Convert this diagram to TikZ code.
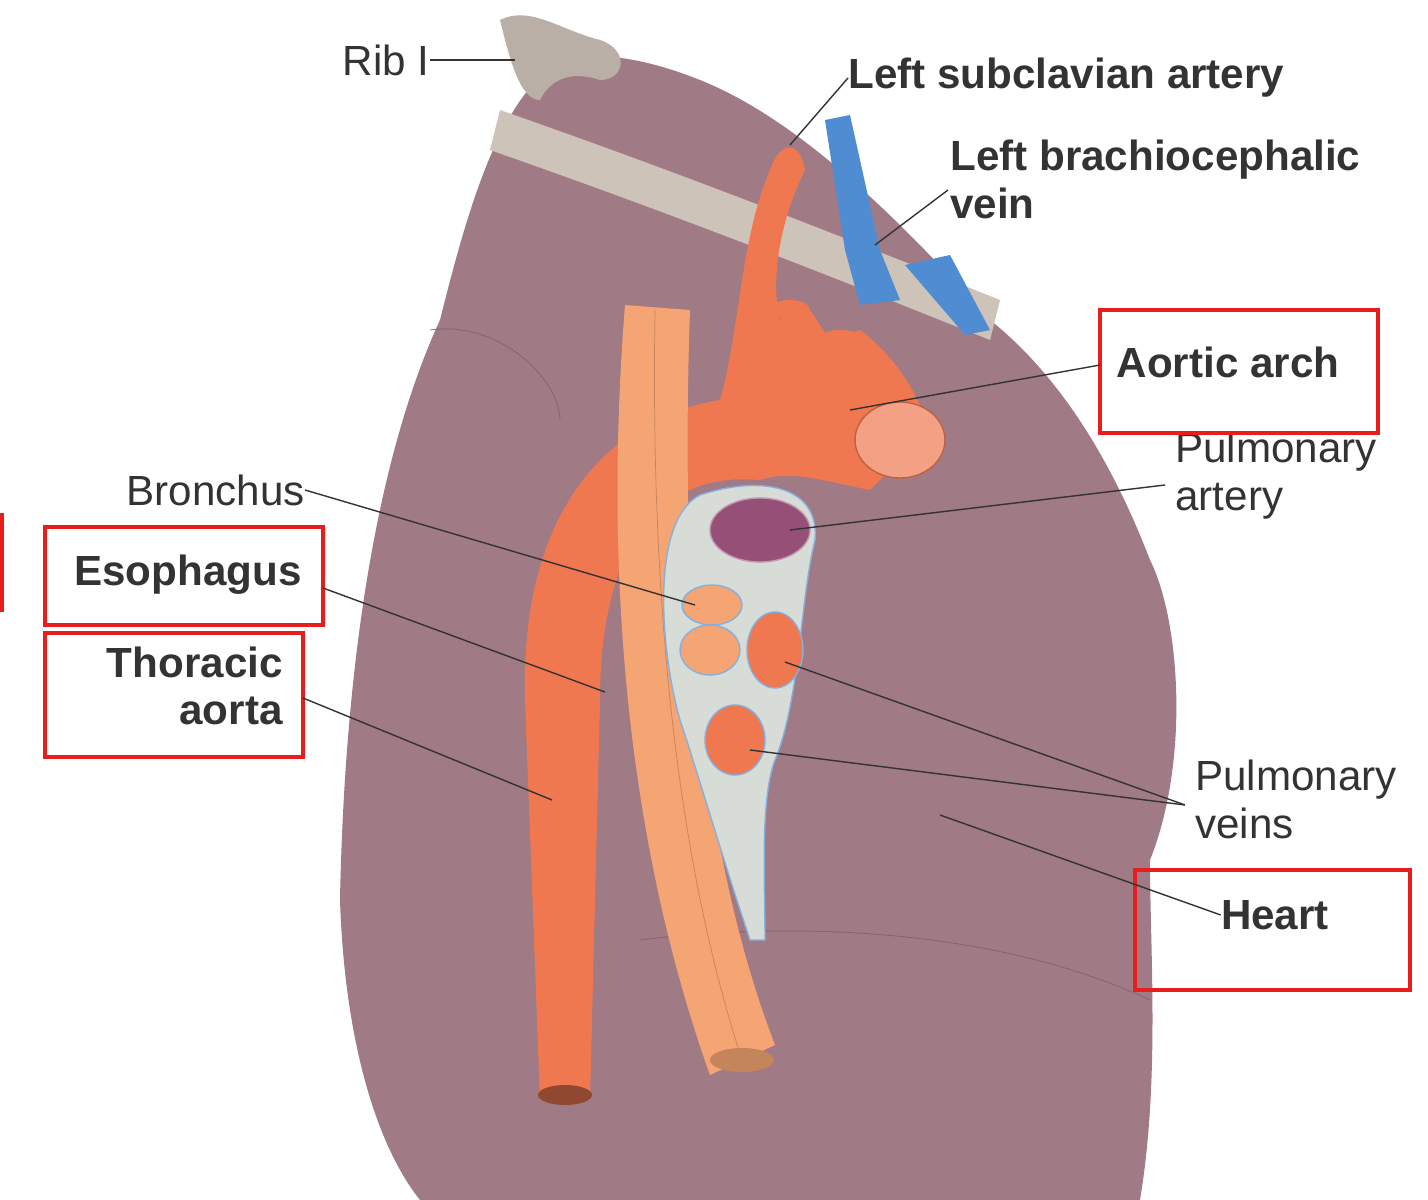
\documentclass[tikz,border=0pt]{standalone}
\usepackage{fontspec}
\setmainfont{Liberation Sans}
\usetikzlibrary{calc}
\definecolor{lung}{RGB}{160,122,132}
\definecolor{rib}{RGB}{205,195,185}
\definecolor{artery}{RGB}{240,120,80}
\definecolor{esoph}{RGB}{245,165,115}
\definecolor{vein}{RGB}{80,140,210}
\definecolor{hilum}{RGB}{215,220,215}
\definecolor{pulm}{RGB}{150,80,120}
\definecolor{boxred}{RGB}{230,30,30}
\tikzset{lbl/.style={font=\fontsize{24}{27}\selectfont, text=black!80, align=left, inner sep=0},
  blbl/.style={lbl, font=\fontsize{24}{27}\selectfont\bfseries},
  lead/.style={black!80, thick},
  redbox/.style={draw=boxred, line width=2.5pt}}
\begin{document}
\begin{tikzpicture}[x=0.02cm,y=-0.02cm]
\useasboundingbox (0,0) rectangle (1428,1200);
\fill[white] (0,0) rectangle (1428,1200);
% lung
\fill[lung] (560,60) .. controls (500,100) and (470,200) .. (440,320)
  .. controls (380,450) and (345,650) .. (340,900) .. controls (345,1050) and (380,1150) .. (420,1200)
  -- (1140,1200) .. controls (1160,1080) and (1150,950) .. (1150,860)
  .. controls (1190,760) and (1180,620) .. (1150,560) .. controls (1100,430) and (1040,360) .. (990,320)
  .. controls (900,220) and (800,120) .. (700,80) .. controls (650,60) and (600,50) .. (560,60) -- cycle;
\draw[lung!80!black, thin] (430,330) .. controls (500,320) and (560,380) .. (560,420);
\draw[lung!80!black, thin] (640,940) .. controls (800,920) and (1000,930) .. (1150,1000);
% rib
\fill[rib] (500,110) .. controls (700,180) and (850,240) .. (1000,300) -- (990,340)
  .. controls (840,280) and (690,220) .. (490,150) -- cycle;
\fill[rib!90!black] (500,20) .. controls (530,5) and (560,30) .. (600,40) .. controls (630,50) and (625,80) .. (600,80)
  .. controls (570,70) and (550,80) .. (540,100) .. controls (520,100) and (510,60) .. (500,20) -- cycle;
% vein
\fill[vein] (825,120) -- (850,115) -- (880,250) -- (900,300) -- (860,305) -- (845,250) -- cycle;
\fill[vein] (905,265) -- (950,255) -- (990,330) -- (965,335) -- cycle;
% subclavian and arch
\fill[artery] (770,170) .. controls (780,140) and (800,140) .. (805,170)
  .. controls (780,220) and (770,280) .. (780,320) -- (810,310) -- (830,340) -- (860,330)
  .. controls (900,360) and (920,400) .. (930,430) -- (870,490) .. controls (820,480) and (790,470) .. (760,480)
  .. controls (650,470) and (600,560) .. (600,700) -- (590,1100) -- (540,1100) -- (525,700)
  .. controls (520,520) and (600,420) .. (720,400) .. controls (740,330) and (740,240) .. (770,170) -- cycle;
\fill[artery] (790,310) ellipse (20 and 10);
\fill[artery] (840,340) ellipse (22 and 10);
\filldraw[fill=artery!70!white, draw=artery!80!black, thick] (900,440) ellipse (45 and 38);
\fill[artery!60!black] (565,1095) ellipse (27 and 10);
% esophagus
\fill[esoph] (625,305) -- (690,310) .. controls (680,600) and (700,850) .. (775,1045) -- (710,1075)
  .. controls (640,880) and (600,620) .. (625,305) -- cycle;
\draw[esoph!80!black] (655,310) .. controls (650,620) and (680,870) .. (742,1060);
\fill[esoph!80!black] (742,1060) ellipse (32 and 12);
% hilum
\filldraw[fill=hilum, draw=vein!70, thick] (700,495) .. controls (760,475) and (820,485) .. (815,540)
  .. controls (800,600) and (800,700) .. (775,760) .. controls (760,800) and (765,880) .. (765,940)
  -- (750,940) .. controls (720,850) and (700,780) .. (680,720) .. controls (660,650) and (650,520) .. (700,495) -- cycle;
\filldraw[fill=pulm, draw=pulm!60!white, thick] (760,530) ellipse (50 and 32);
\filldraw[fill=esoph, draw=vein!70, thick] (712,605) ellipse (30 and 20);
\filldraw[fill=esoph, draw=vein!70, thick] (710,650) ellipse (30 and 25);
\filldraw[fill=artery, draw=vein!70, thick] (775,650) ellipse (28 and 38);
\filldraw[fill=artery, draw=vein!70, thick] (735,740) ellipse (30 and 35);
% labels
\node[lbl, anchor=east] (rib) at (430,60) {Rib I};
\node[blbl, anchor=west] (subcl) at (848,78) {Left subclavian artery};
\node[blbl, anchor=north west] (brach) at (950,140) {Left brachiocephalic\\vein};
\node[blbl] (arch) at (1228,362) {Aortic arch};
\node[lbl, anchor=north west] (partery) at (1175,432) {Pulmonary\\artery};
\node[lbl, anchor=east] (bron) at (305,490) {Bronchus};
\node[blbl] (esop) at (188,575) {Esophagus};
\node[blbl, align=right, anchor=east] (tho) at (283,686) {Thoracic\\aorta};
\node[lbl, anchor=north west] (pveins) at (1195,760) {Pulmonary\\veins};
\node[blbl] (heart) at (1275,915) {Heart};
\draw[redbox] (1100,310) rectangle (1378,433);
\draw[redbox] (45,527) rectangle (323,625);
\draw[redbox] (45,633) rectangle (303,757);
\draw[redbox] (1135,870) rectangle (1410,990);
\draw[redbox] (-5,515) rectangle (2,610);
% leaders
\draw[lead] (rib.east) -- (515,60);
\draw[lead] (subcl.west) -- (790,145);
\draw[lead] (948,190) -- (875,245);
\draw[lead] (1100,365) -- (850,410);
\draw[lead] (1165,485) -- (790,530);
\draw[lead] (bron.east) -- (695,605);
\draw[lead] (323,588) -- (605,692);
\draw[lead] (303,698) -- (552,800);
\draw[lead] (1185,805) -- (785,662);
\draw[lead] (1185,805) -- (750,750);
\draw[lead] (heart.west) -- (940,815);
\end{tikzpicture}
\end{document}
